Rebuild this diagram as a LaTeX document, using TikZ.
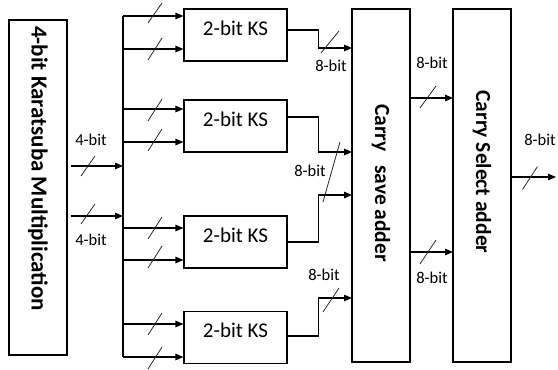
\documentclass[tikz,border=0pt]{standalone}
\usepackage{fontspec}
\setmainfont{Carlito}
\usetikzlibrary{arrows.meta}
\newcommand{\bitslash}[3][7]{\draw[slashl] ([shift={(-#1,#3)}]#2) -- ([shift={(#1,-#3)}]#2);}
\tikzset{
  box/.style={draw, line width=1.1pt, inner sep=0pt},
  wire/.style={line width=1.2pt},
  arr/.style={line width=1.2pt, -{Triangle[length=8pt,width=6.5pt]}},
  slashl/.style={line width=0.8pt, black!85},
  lbl/.style={font=\fontsize{16.5}{16.5}\selectfont, inner sep=0pt},
  kstext/.style={font=\fontsize{21}{21}\selectfont},
  vtext/.style={rotate=-90, inner sep=0pt, font=\bfseries\fontsize{21.5}{21.5}\selectfont}
}
\begin{document}
\begin{tikzpicture}[x=1pt,y=-1pt]
\useasboundingbox (0,0) rectangle (558,370);
% boxes
\node[box, minimum width=58pt, minimum height=335pt] (km) at (38,187.5) {};
\node[box, minimum width=103pt, minimum height=52pt, kstext] (ks1) at (235.5,35) {\smash{2-bit KS}};
\node[box, minimum width=103pt, minimum height=52pt, kstext] (ks2) at (235.5,126) {\smash{2-bit KS}};
\node[box, minimum width=103pt, minimum height=52pt, kstext] (ks3) at (235.5,242) {\smash{2-bit KS}};
\node[box, minimum width=103pt, minimum height=52pt, kstext] (ks4) at (235.5,337.5) {\smash{2-bit KS}};
\node[box, minimum width=58pt, minimum height=353pt] (csa) at (381,185.5) {};
\node[box, minimum width=58pt, minimum height=353pt] (csel) at (482,185.5) {};
% rotated texts
\node[vtext, font=\bfseries\fontsize{23}{23}\selectfont] (kmt) at ([yshift=19pt]km.center) {4-bit Karatsuba Multiplication};
\node[vtext] (csat) at ([yshift=2.5pt]csa.center) {Carry\hspace{0.4em} save adder};
\node[vtext] (cselt) at ([yshift=13.5pt]csel.center) {Carry Select adder};
% bus
\coordinate (bt) at (123,16);
\coordinate (bb) at (123,357);
\draw[wire] (bt) -- (bb);
\coordinate (in1) at (123,166);
\coordinate (in2) at (123,216);
\draw[arr] ([xshift=3pt]km.east |- in1) -- (in1);
\draw[arr] ([xshift=3pt]km.east |- in2) -- (in2);
% branches
\coordinate (b1) at (123,16);
\coordinate (b2) at (123,49);
\coordinate (b3) at (123,109);
\coordinate (b4) at (123,142);
\coordinate (b5) at (123,228);
\coordinate (b6) at (123,260);
\coordinate (b7) at (123,324);
\coordinate (b8) at (123,357);
\draw[arr] (b1) -- (b1 -| ks1.west);
\draw[arr] (b2) -- (b2 -| ks1.west);
\draw[arr] (b3) -- (b3 -| ks2.west);
\draw[arr] (b4) -- (b4 -| ks2.west);
\draw[arr] (b5) -- (b5 -| ks3.west);
\draw[arr] (b6) -- (b6 -| ks3.west);
\draw[arr] (b7) -- (b7 -| ks4.west);
\draw[arr] (b8) -- (b8 -| ks4.west);
% KS outputs into carry save adder
\coordinate (c1) at (352,48);
\coordinate (c2) at (352,152);
\coordinate (c3) at (352,195);
\coordinate (c4) at (352,298);
\draw[arr] ([yshift=5pt]ks1.east) -- ++(31,0) |- (c1);
\draw[arr] ([yshift=9pt]ks2.east) -- ++(31,0) |- (c2);
\draw[arr] (ks3.east) -- ++(31,0) |- (c3);
\draw[arr] ([yshift=1.5pt]ks4.east) -- ++(31,0) |- (c4);
% CSA to CSel
\coordinate (m1) at (453,98);
\coordinate (m2) at (453,252);
\draw[arr] (csa.east |- m1) -- (m1);
\draw[arr] (csa.east |- m2) -- (m2);
% output
\coordinate (out) at (556,177);
\draw[arr] (csel.east |- out) -- (out);
% bit slashes
\coordinate (s1) at (88,166);
\coordinate (s2) at (88,214);
\coordinate (s3) at (155,13);
\coordinate (s4) at (155,49);
\coordinate (s5) at (155,110);
\coordinate (s6) at (155,140);
\coordinate (s7) at (155,228);
\coordinate (s8) at (155,257);
\coordinate (s9) at (155,324);
\coordinate (s10) at (155,358);
\coordinate (s11) at (330,42);
\coordinate (s12) at (331,300);
\coordinate (s13) at (428,97);
\coordinate (s14) at (428,252);
\coordinate (s15) at (530,178);
\bitslash{s1}{10}
\bitslash{s2}{10}
\bitslash{s3}{10}
\bitslash{s4}{11}
\bitslash{s5}{11}
\bitslash{s6}{11}
\bitslash{s7}{11}
\bitslash{s8}{11}
\bitslash{s9}{11}
\bitslash{s10}{11}
\bitslash[9]{s11}{11}
\bitslash[8]{s12}{12}
\bitslash[8]{s13}{11}
\bitslash[8]{s14}{12}
\bitslash[7.5]{s15}{11.5}
\coordinate (lsa) at (340,142);
\coordinate (lsb) at (323,202);
\draw[slashl] (lsa) -- (lsb);
% labels
\node[lbl] (l1) at (91,140) {4-bit};
\node[lbl] (l2) at (91,240) {4-bit};
\node[lbl] (l3) at (331,66) {8-bit};
\node[lbl] (l4) at (310,171) {8-bit};
\node[lbl] (l5) at (324,275) {8-bit};
\node[lbl] (l6) at (432,63) {8-bit};
\node[lbl] (l7) at (432,278) {8-bit};
\node[lbl] (l8) at (540,140) {8-bit};
\end{tikzpicture}
\end{document}
